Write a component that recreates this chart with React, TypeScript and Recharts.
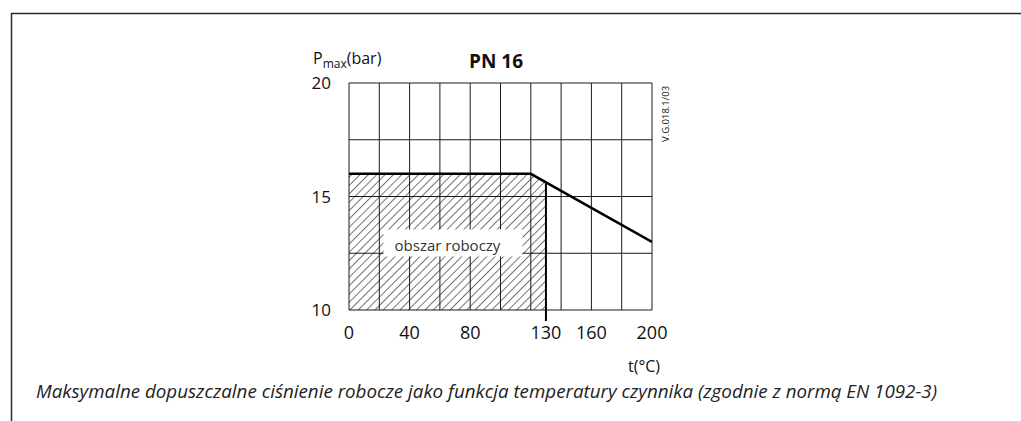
import React from 'react';
import { ComposedChart, Line, Area, XAxis, YAxis, ReferenceLine, ReferenceDot } from 'recharts';

const FONT = '"Open Sans", "DejaVu Sans", sans-serif';

// axis ticks
const xTicks = [0, 40, 80, 130, 160, 200];
const yTicks = [10, 15, 20];
// grid lines
const xGrid = [0, 20, 40, 60, 80, 100, 120, 140, 160, 180, 200];
const yGrid = [10, 12.5, 15, 17.5, 20];
// pressure limit curve
const limitTemps = [0, 120, 200];
const limitPressures = [16, 16, 13];
// working region (hatched)
const workTemps = [0, 120, 130];
const workPressures = [16, 16, 15.625];
const workMaxTemp = 130;
// labels
const regionLabel = 'obszar roboczy';
const regionLabelT = 65;
const regionLabelP = 12.8;
const title = 'PN 16';
const xUnit = 't(°C)';
const docCode = 'V.G.018.1/03';
const caption =
  'Maksymalne dopuszczalne ciśnienie robocze jako funkcja temperatury czynnika (zgodnie z normą EN 1092-3)';

const limitData = limitTemps.map((t, i) => ({ t, p: limitPressures[i] }));
const workData = workTemps.map((t, i) => ({ t, p: workPressures[i] }));

const XTick = (props: any) => {
  const { x, y, payload } = props;
  return (
    <g>
      {payload.value === workMaxTemp && (
        <line x1={x} x2={x} y1={y} y2={y + 11} stroke="#000" strokeWidth={2} />
      )}
      <text x={x} y={y + 29} textAnchor="middle" fontFamily={FONT} fontSize={18} fill="#111">
        {payload.value}
      </text>
    </g>
  );
};

const YTick = (props: any) => {
  const { x, y, payload } = props;
  return (
    <text x={x - 18} y={y + 6} textAnchor="end" fontFamily={FONT} fontSize={17} fill="#111">
      {payload.value}
    </text>
  );
};

const LabelBox = (props: any) => {
  const { cx, cy } = props;
  return (
    <g>
      <rect x={cx - 64} y={cy - 17} width={139} height={27} fill="#fff" />
      <text
        x={cx}
        y={cy + 5}
        textAnchor="middle"
        fontFamily={FONT}
        fontSize={15}
        fill="#333"
      >
        {regionLabel}
      </text>
    </g>
  );
};

export default function App() {
  return (
    <div style={{ position: 'absolute', left: 0, top: 0, width: 1021, height: 421, background: '#fff' }}>
      <svg width={0} height={0} style={{ position: 'absolute' }}>
        <defs>
          <pattern
            id="hatch"
            width={5.9}
            height={10}
            patternUnits="userSpaceOnUse"
            patternTransform="rotate(45)"
          >
            <line x1={0} y1={0} x2={0} y2={10} stroke="#000" strokeWidth={1.1} />
          </pattern>
        </defs>
      </svg>
      <div style={{ position: 'absolute', left: 0, top: 0 }}>
        <ComposedChart
          width={1021}
          height={421}
          margin={{ top: 83, right: 369, bottom: 81, left: 309 }}
        >
          <XAxis
            dataKey="t"
            type="number"
            domain={[0, 200]}
            ticks={xTicks}
            interval={0}
            axisLine={false}
            tickLine={false}
            tickSize={0}
            tickMargin={0}
            height={30}
            tick={<XTick />}
            allowDataOverflow
          />
          <YAxis
            type="number"
            domain={[10, 20]}
            ticks={yTicks}
            interval={0}
            axisLine={false}
            tickLine={false}
            tickSize={0}
            tickMargin={0}
            width={40}
            tick={<YTick />}
            allowDataOverflow
          />
          <Area
            data={workData}
            dataKey="p"
            type="linear"
            fill="url(#hatch)"
            fillOpacity={1}
            stroke="none"
            baseValue="dataMin"
            isAnimationActive={false}
          />
          {xGrid.map((v) => (
            <ReferenceLine key={'x' + v} x={v} stroke="#1a1a1a" strokeWidth={1} />
          ))}
          {yGrid.map((v) => (
            <ReferenceLine key={'y' + v} y={v} stroke="#1a1a1a" strokeWidth={1} />
          ))}
          <ReferenceLine
            segment={[
              { x: workMaxTemp, y: 10 },
              { x: workMaxTemp, y: workPressures[workPressures.length - 1] },
            ]}
            stroke="#000"
            strokeWidth={2}
          />
          <Line
            data={limitData}
            dataKey="p"
            type="linear"
            stroke="#000"
            strokeWidth={2.5}
            dot={false}
            activeDot={false}
            isAnimationActive={false}
          />
          <ReferenceDot x={regionLabelT} y={regionLabelP} r={0} shape={<LabelBox />} />
        </ComposedChart>
      </div>
      <svg
        width={1021}
        height={421}
        style={{ position: 'absolute', left: 0, top: 0, pointerEvents: 'none' }}
      >
        <line x1={11} y1={13.5} x2={1021} y2={13.5} stroke="#2a2a2a" strokeWidth={1.5} />
        <line x1={11.5} y1={13} x2={11.5} y2={421} stroke="#2a2a2a" strokeWidth={1.5} />
        <text x={313} y={64} fontFamily={FONT} fontSize={16} fill="#111">
          P
          <tspan fontSize={12} dy={4}>max</tspan>
          <tspan fontSize={16} dy={-4}>(bar)</tspan>
        </text>
        <text x={496} y={68} textAnchor="middle" fontFamily={FONT} fontSize={19} fontWeight="bold" fill="#111">
          {title}
        </text>
        <text x={628} y={372} fontFamily={FONT} fontSize={16} fill="#111">
          {xUnit}
        </text>
        <text
          x={0}
          y={0}
          transform="translate(669 142) rotate(-90)"
          fontFamily={FONT}
          fontSize={9.5}
          fill="#111"
        >
          {docCode}
        </text>
        <text
          x={36}
          y={398}
          fontFamily={FONT}
          fontSize={18}
          fontStyle="italic"
          fill="#222"
          textLength={901}
          lengthAdjust="spacingAndGlyphs"
        >
          {caption}
        </text>
      </svg>
    </div>
  );
}
